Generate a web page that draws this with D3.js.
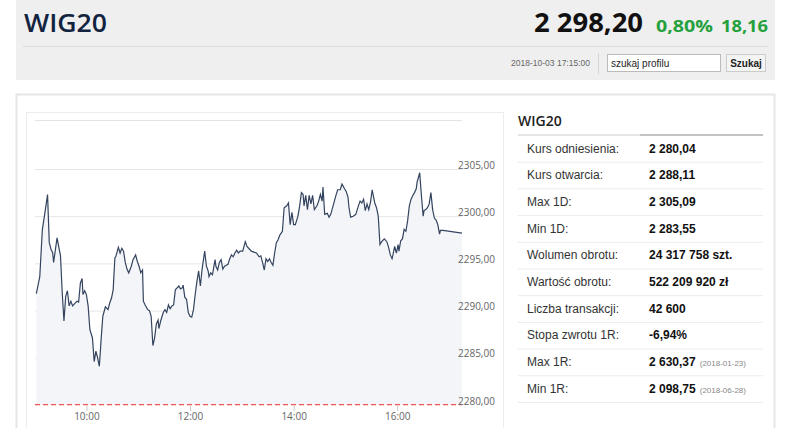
<!DOCTYPE html>
<html>
<head>
<meta charset="utf-8">
<script src="https://cdn.jsdelivr.net/npm/d3@7"></script>
<style>
  body { margin: 0; background: #fff; }
  svg { display: block; }
</style>
</head>
<body>
<svg id="chart" width="786" height="428"></svg>
<script>
// intraday WIG20, 2018-10-03
const times = ["09:02","09:06","09:09","09:12","09:15","09:17","09:19","09:21","09:22","09:26","09:30","09:32","09:34","09:36","09:38","09:40","09:42","09:44","09:47","09:49","09:51","09:53","09:55","09:56","09:58","10:00","10:02","10:04","10:07","10:09","10:11","10:13","10:15","10:17","10:19","10:22","10:23","10:25","10:27","10:29","10:31","10:33","10:34","10:37","10:39","10:41","10:43","10:45","10:47","10:49","10:52","10:54","10:57","10:59","11:01","11:03","11:05","11:06","11:08","11:11","11:13","11:15","11:17","11:19","11:21","11:23","11:24","11:26","11:29","11:31","11:33","11:35","11:37","11:39","11:41","11:43","11:45","11:47","11:49","11:51","11:52","11:54","11:56","11:58","12:00","12:02","12:04","12:06","12:08","12:10","12:12","12:14","12:17","12:19","12:21","12:22","12:24","12:26","12:29","12:30","12:32","12:34","12:36","12:38","12:40","12:42","12:44","12:46","12:48","12:50","12:52","12:54","12:56","12:58","13:01","13:04","13:06","13:09","13:11","13:14","13:17","13:20","13:22","13:24","13:26","13:28","13:30","13:32","13:34","13:36","13:38","13:40","13:42","13:44","13:47","13:49","13:52","13:54","13:56","13:58","14:00","14:02","14:05","14:07","14:09","14:11","14:12","14:14","14:16","14:18","14:20","14:22","14:24","14:27","14:29","14:31","14:33","14:34","14:36","14:39","14:41","14:43","14:46","14:49","14:51","14:54","14:56","14:59","15:01","15:03","15:04","15:06","15:09","15:12","15:15","15:17","15:19","15:21","15:23","15:25","15:27","15:29","15:31","15:32","15:34","15:36","15:38","15:40","15:42","15:45","15:48","15:50","15:52","15:54","15:55","15:57","15:59","16:01","16:02","16:04","16:06","16:08","16:10","16:12","16:14","16:16","16:18","16:20","16:22","16:23","16:26","16:28","16:30","16:31","16:33","16:35","16:37","16:39","16:41","16:43","16:45","16:47","16:49","16:50","16:53","17:01","17:15"];
const values = [2291.8,2293.6,2298.6,2300.4,2302.3,2297.2,2296.5,2296.1,2295.1,2297.7,2295.8,2291.9,2288.9,2291.5,2292.1,2290.5,2291.0,2290.5,2290.8,2291.0,2290.9,2292.9,2293.4,2291.7,2292.1,2291.7,2290.5,2288.0,2287.1,2284.6,2285.7,2285.0,2284.1,2286.9,2289.4,2290.4,2290.3,2290.1,2290.8,2291.3,2292.2,2295.6,2295.7,2296.7,2296.1,2296.6,2296.3,2295.1,2294.4,2294.0,2294.7,2295.4,2295.9,2295.2,2294.7,2294.0,2294.3,2291.0,2290.6,2290.1,2290.0,2289.4,2286.3,2287.1,2288.6,2289.0,2288.1,2288.9,2289.8,2290.1,2289.8,2290.6,2290.2,2290.5,2290.6,2292.2,2292.4,2292.6,2292.3,2292.4,2292.7,2291.4,2291.2,2289.8,2289.4,2289.3,2290.1,2291.7,2293.1,2294.2,2292.6,2294.4,2296.3,2294.7,2294.2,2293.6,2294.0,2293.8,2295.4,2294.7,2294.3,2295.1,2295.4,2294.4,2294.7,2294.8,2294.9,2295.5,2295.9,2295.7,2296.1,2296.4,2296.1,2296.3,2296.3,2297.3,2296.8,2296.5,2296.3,2296.2,2296.1,2295.7,2295.8,2295.1,2294.3,2295.5,2295.2,2295.5,2295.1,2294.8,2296.1,2297.2,2297.5,2298.0,2298.4,2300.9,2301.1,2301.4,2299.1,2300.4,2299.1,2299.1,2300.0,2301.1,2302.5,2302.3,2301.1,2302.2,2300.7,2302.2,2301.3,2302.2,2300.7,2301.1,2301.6,2302.3,2301.6,2303.1,2300.2,2300.3,2299.9,2300.2,2301.2,2302.2,2302.8,2302.8,2303.4,2302.9,2302.6,2302.0,2301.0,2299.9,2300.0,2300.2,2301.1,2301.6,2301.4,2301.8,2300.6,2301.3,2300.7,2301.5,2302.8,2302.3,2301.4,2300.9,2300.0,2297.0,2297.3,2297.6,2297.3,2296.7,2295.9,2295.5,2295.9,2296.8,2296.1,2297.0,2296.3,2297.4,2297.6,2298.6,2298.4,2299.5,2301.1,2301.8,2302.2,2302.5,2302.9,2303.6,2304.6,2302.2,2300.0,2300.6,2300.7,2300.9,2301.3,2302.5,2300.7,2299.8,2299.6,2299.1,2298.1,2298.5,2298.5,2298.4,2298.2];

const xTicks = ["10:00","12:00","14:00","16:00"];
const yTicks = [2280, 2285, 2290, 2295, 2300, 2305];
const refPrice = 2280.04;

const rowLabels = ["Kurs odniesienia:","Kurs otwarcia:","Max 1D:","Min 1D:","Wolumen obrotu:","Wartość obrotu:","Liczba transakcji:","Stopa zwrotu 1R:","Max 1R:","Min 1R:"];
const rowValues = ["2 280,04","2 288,11","2 305,09","2 283,55","24 317 758 szt.","522 209 920 zł","42 600","-6,94%","2 630,37","2 098,75"];
const rowDates = ["","","","","","","","","(2018-01-23)","(2018-06-28)"];

const svg = d3.select("#chart");
const parse = d3.timeParse("%H:%M");
const data = times.map((t, i) => ({ t: parse(t), v: values[i] }));

// header panel
svg.append("rect").attr("x", 16).attr("y", 0).attr("width", 759).attr("height", 80).attr("fill", "#efefef");
svg.append("text").attr("x", 24).attr("y", 32)
  .style("font-family", "'Open Sans', sans-serif").style("font-size", "26px").style("font-weight", 600)
  .attr("fill", "#12233f").attr("textLength", 83).attr("lengthAdjust", "spacingAndGlyphs").text("WIG20");

// quote: text, left x, width, font size, colour
const quote = [["2 298,20", 534, 109, 26, "#111"], ["0,80%", 656, 57, 16.5, "#24a03c"], ["18,16", 721, 47, 16.5, "#24a03c"]];
svg.append("g").selectAll("text").data(quote).join("text")
  .attr("x", d => d[1]).attr("y", 32).attr("textLength", d => d[2]).attr("lengthAdjust", "spacingAndGlyphs")
  .style("font-family", "'Open Sans', sans-serif").style("font-weight", "bold")
  .style("font-size", d => d[3] + "px").attr("fill", d => d[4]).text(d => d[0]);

svg.append("line").attr("x1", 23).attr("x2", 768).attr("y1", 46.5).attr("y2", 46.5).attr("stroke", "#dcdcdc");
svg.append("text").attr("x", 590).attr("y", 66).attr("text-anchor", "end")
  .style("font-family", "Arial, 'Liberation Sans', sans-serif").style("font-size", "8.5px").attr("fill", "#666")
  .text("2018-10-03 17:15:00");
svg.append("line").attr("x1", 598.5).attr("x2", 598.5).attr("y1", 53).attr("y2", 74).attr("stroke", "#d6d6d6");
svg.append("rect").attr("x", 607.5).attr("y", 54.5).attr("width", 113).attr("height", 17)
  .attr("fill", "#fff").attr("stroke", "#bbb");
svg.append("text").attr("x", 611).attr("y", 66.5)
  .style("font-family", "Arial, 'Liberation Sans', sans-serif").style("font-size", "10px").attr("fill", "#222")
  .text("szukaj profilu");
svg.append("rect").attr("x", 726.5).attr("y", 54.5).attr("width", 39).attr("height", 17)
  .attr("fill", "#f4f4f4").attr("stroke", "#ccc");
svg.append("text").attr("x", 746).attr("y", 66.5).attr("text-anchor", "middle")
  .style("font-family", "Arial, 'Liberation Sans', sans-serif").style("font-size", "10px").style("font-weight", "bold").attr("fill", "#222")
  .text("Szukaj");

// main panel
svg.append("rect").attr("x", 16.5).attr("y", 94.5).attr("width", 758).attr("height", 340)
  .attr("fill", "#fff").attr("stroke", "#e6e6e6").attr("stroke-width", 2);
svg.append("rect").attr("x", 26.5).attr("y", 112.5).attr("width", 477).attr("height", 330)
  .attr("fill", "#fff").attr("stroke", "#ececec");

// chart
const x = d3.scaleTime().domain([parse("09:00"), parse("17:15")]).range([34.6, 462]);
const y = d3.scaleLinear().domain([2280, 2305]).range([405, 169]);

const plot = svg.append("g");
plot.append("line").attr("x1", 35).attr("x2", 462).attr("y1", 120.5).attr("y2", 120.5).attr("stroke", "#e4e4e4");

const grid = plot.append("g").attr("transform", "translate(462,0)")
  .call(d3.axisLeft(y).tickValues(yTicks.slice(1)).tickSize(427).tickFormat(""));
grid.select(".domain").remove();
grid.selectAll("line").attr("stroke", "#e6e6e6");

plot.append("path").datum(data)
  .attr("fill", "#f3f5f8")
  .attr("d", d3.area().x(d => x(d.t)).y0(y(2280)).y1(d => y(d.v)));

plot.append("line").attr("x1", 35).attr("x2", 462).attr("y1", y(refPrice)).attr("y2", y(refPrice))
  .attr("stroke", "#ea5555").attr("stroke-width", 1.2).attr("stroke-dasharray", "5,3");

plot.append("path").datum(data)
  .attr("fill", "none").attr("stroke", "#34445f").attr("stroke-width", 1.2)
  .attr("d", d3.line().x(d => x(d.t)).y(d => y(d.v)));

// y labels on top of the area
const yAxis = d3.axisRight(y).tickValues(yTicks).tickSize(0)
  .tickFormat(d => d3.format(".2f")(d).replace(".", ","));
const yg = plot.append("g").attr("transform", "translate(462,0)").call(yAxis);
yg.select(".domain").remove();
yg.selectAll("text").attr("x", -4).attr("dy", "-0.1em").attr("fill", "#666")
  .style("font-family", "'Open Sans', sans-serif").style("font-size", "10px");

const xAxis = d3.axisBottom(x).tickValues(xTicks.map(parse)).tickSize(5).tickFormat(d3.timeFormat("%H:%M"));
const xg = plot.append("g").attr("transform", `translate(0,${y(2280) + 1})`).call(xAxis);
xg.select(".domain").remove();
xg.selectAll("line").attr("stroke", "#c8c8c8");
xg.selectAll("text").attr("fill", "#666").attr("y", 7)
  .style("font-family", "'Open Sans', sans-serif").style("font-size", "10px");

// side table
const font = "Arial, 'Liberation Sans', sans-serif";
svg.append("text").attr("x", 518).attr("y", 126)
  .style("font-family", "'Open Sans', sans-serif").style("font-size", "14px").style("font-weight", 600)
  .attr("fill", "#222").text("WIG20");
svg.append("line").attr("x1", 518).attr("x2", 640).attr("y1", 135).attr("y2", 135).attr("stroke", "#ccc");
svg.append("line").attr("x1", 640).attr("x2", 763).attr("y1", 135).attr("y2", 135).attr("stroke", "#888");

const rowH = 26.7;
const rows = svg.append("g").selectAll("g").data(rowLabels).join("g")
  .attr("transform", (d, i) => `translate(0,${135 + i * rowH})`);
rows.filter((d, i) => i > 0).append("line")
  .attr("x1", 518).attr("x2", 763).attr("y1", 0.5).attr("y2", 0.5).attr("stroke", "#ececec");
rows.append("text").attr("x", 527).attr("y", 17.5)
  .style("font-family", font).style("font-size", "12px").attr("fill", "#333").text(d => d);
const vals = rows.append("text").attr("x", 649).attr("y", 17.5)
  .style("font-family", font).style("font-size", "12px");
vals.append("tspan").style("font-weight", "bold").attr("fill", "#111").text((d, i) => rowValues[i]);
vals.append("tspan").attr("dx", 4).style("font-size", "8px").attr("fill", "#888").text((d, i) => rowDates[i]);
svg.append("line").attr("x1", 518).attr("x2", 763).attr("y1", 135 + 10 * rowH + 0.5).attr("y2", 135 + 10 * rowH + 0.5)
  .attr("stroke", "#ececec");
</script>
</body>
</html>
